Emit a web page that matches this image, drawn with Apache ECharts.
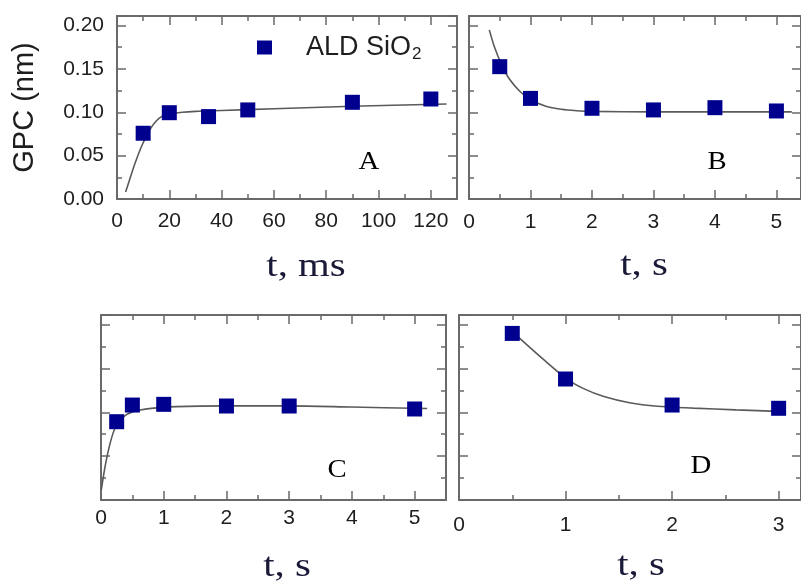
<!DOCTYPE html>
<html>
<head>
<meta charset="utf-8">
<script src="https://cdn.jsdelivr.net/npm/echarts@6/dist/echarts.min.js"></script>
<style>html,body{margin:0;padding:0;background:#fff;}#c{width:801px;height:583px;}</style>
</head>
<body>
<div id="c"></div>
<script>
// ---- Data ----
const seriesName = 'ALD SiO\u2082';
const aX = [10, 20, 35, 50, 90, 120];
const aY = [0.0758, 0.0995, 0.095, 0.1027, 0.1115, 0.1153];
const aFitX = [3.3, 5, 7, 9, 11, 13, 15, 17, 20, 25, 30, 40, 60, 90, 126];
const aFitY = [0.008, 0.024, 0.042, 0.058, 0.071, 0.082, 0.09, 0.095, 0.098, 0.1, 0.101, 0.102, 0.104, 0.107, 0.1095];

const bX = [0.5, 1, 2, 3, 4, 5];
const bY = [0.1526, 0.116, 0.1046, 0.1027, 0.1053, 0.1015];
const bFitX = [0.33, 0.42, 0.53, 0.66, 0.83, 1.0, 1.25, 1.5, 1.75, 2, 3, 4, 5.25];
const bFitY = [0.195, 0.174, 0.155, 0.138, 0.124, 0.1145, 0.107, 0.1035, 0.1018, 0.101, 0.1005, 0.1005, 0.1005];

const cX = [0.25, 0.5, 1, 2, 3, 5];
const cY = [0.0893, 0.1083, 0.1091, 0.1072, 0.1072, 0.1038];
const cFitX = [0.005, 0.07, 0.15, 0.23, 0.34, 0.5, 0.8, 1.2, 2, 3, 4, 5.2];
const cFitY = [0.0114, 0.04, 0.066, 0.083, 0.094, 0.1005, 0.1045, 0.1065, 0.1073, 0.1073, 0.106, 0.1043];

const dX = [0.5, 1, 2, 3];
const dY = [0.190, 0.138, 0.1083, 0.1046];
const dFitX = [0.5, 0.73, 1.0, 1.17, 1.36, 1.6, 1.86, 2.2, 2.6, 3.06];
const dFitY = [0.192, 0.167, 0.139, 0.127, 0.118, 0.111, 0.107, 0.1048, 0.1028, 0.1008];

const panelLetters = ['A', 'B', 'C', 'D'];
const xTitles = ['t, ms', 't, s', 't, s', 't, s'];
const yTitle = 'GPC (nm)';

// ---- Layout / style ----
const grids = [
  {left: 117, top: 16, width: 340, height: 183},
  {left: 469, top: 16, width: 333, height: 183},
  {left: 101, top: 315, width: 345, height: 185},
  {left: 459, top: 315, width: 342, height: 185}
];
const xCfg = [
  {min: 0, max: 130, interval: 20, margin: 12},
  {min: 0, max: 5.4, interval: 1, margin: 13},
  {min: 0, max: 5.5, interval: 1, margin: 8},
  {min: 0, max: 3.21, interval: 1, margin: 15}
];
const yMax = 0.211;
const axisColor = '#6a6a6a';
const labelStyle = {color: '#1e1e1e', fontFamily: 'Liberation Sans', fontSize: 21};

function axisBase(showLabel, margin, fmt) {
  return {
    axisLine: {show: true, onZero: false, lineStyle: {color: axisColor, width: 2}},
    axisTick: {show: true, inside: true, length: 9, lineStyle: {color: axisColor, width: 1.5}},
    minorTick: {show: true, splitNumber: 2, length: 5, lineStyle: {color: axisColor, width: 1.5}},
    splitLine: {show: false},
    axisLabel: Object.assign({show: showLabel, margin: margin, showMaxLabel: false, formatter: fmt}, labelStyle)
  };
}

const xAxis = [], yAxis = [];
grids.forEach((g, i) => {
  const c = xCfg[i];
  xAxis.push(Object.assign({type: 'value', gridIndex: i, position: 'bottom', min: c.min, max: c.max, interval: c.interval},
    axisBase(true, c.margin, v => String(v))));
  xAxis.push(Object.assign({type: 'value', gridIndex: i, position: 'top', min: c.min, max: c.max, interval: c.interval},
    axisBase(false, 8)));
  yAxis.push(Object.assign({type: 'value', gridIndex: i, position: 'left', min: 0, max: yMax, interval: 0.05,
    name: i === 0 ? yTitle : '', nameLocation: 'middle', nameGap: 78, nameRotate: 90,
    nameTextStyle: {color: '#1e1e1e', fontFamily: 'Liberation Sans', fontSize: 29}},
    axisBase(i === 0, 13, v => v.toFixed(2))));
  yAxis.push(Object.assign({type: 'value', gridIndex: i, position: 'right', min: 0, max: yMax, interval: 0.05},
    axisBase(false, 8)));
});

const panels = [[aX, aY, aFitX, aFitY], [bX, bY, bFitX, bFitY], [cX, cY, cFitX, cFitY], [dX, dY, dFitX, dFitY]];
const series = [];
panels.forEach((p, i) => {
  series.push({
    type: 'line', xAxisIndex: 2 * i, yAxisIndex: 2 * i, smooth: 0.3, showSymbol: false, silent: true,
    data: p[2].map((x, k) => [x, p[3][k]]),
    lineStyle: {color: '#5a5a5a', width: 1.6}, z: 2
  });
  series.push({
    type: 'scatter', name: seriesName, xAxisIndex: 2 * i, yAxisIndex: 2 * i,
    symbol: 'rect', symbolSize: 15,
    data: p[0].map((x, k) => [x, p[1][k]]),
    itemStyle: {color: '#00008e', opacity: 1}, z: 3
  });
});

const letterPos = [[369, 162], [717, 162], [337, 470], [701, 466]];
const xTitlePos = [[306, 267], [644, 266], [287, 567], [641, 566]];
const graphic = [];
panelLetters.forEach((t, i) => {
  graphic.push({type: 'text', x: letterPos[i][0], y: letterPos[i][1], scaleX: 1.15,
    style: {text: t, fontFamily: 'Liberation Serif', fontSize: 25, fill: '#000', textAlign: 'center', textVerticalAlign: 'middle'}});
});
xTitles.forEach((t, i) => {
  graphic.push({type: 'text', x: xTitlePos[i][0], y: xTitlePos[i][1], scaleX: 1.2,
    style: {text: t, fontFamily: 'Liberation Serif', fontSize: 34, fill: '#1a1a38', textAlign: 'center', textVerticalAlign: 'middle'}});
});

const chart = echarts.init(document.getElementById('c'), null, {renderer: 'canvas'});
chart.setOption({
  animation: false,
  backgroundColor: '#fff',
  grid: grids,
  xAxis: xAxis,
  yAxis: yAxis,
  legend: {
    data: [seriesName], left: 257, top: 34, padding: 0,
    icon: 'rect', itemWidth: 15, itemHeight: 14,
    itemStyle: {color: '#00008e', opacity: 1},
    formatter: () => '{a|ALD SiO}{s|2}',
    textStyle: {
      rich: {
        a: {fontFamily: 'Liberation Sans', fontSize: 27, color: '#1e1e1e', padding: [0, 0, 0, 29]},
        s: {fontFamily: 'Liberation Sans', fontSize: 17, color: '#1e1e1e', padding: [14, 0, 0, 1]}
      }
    }
  },
  graphic: graphic,
  series: series
});
</script>
</body>
</html>
